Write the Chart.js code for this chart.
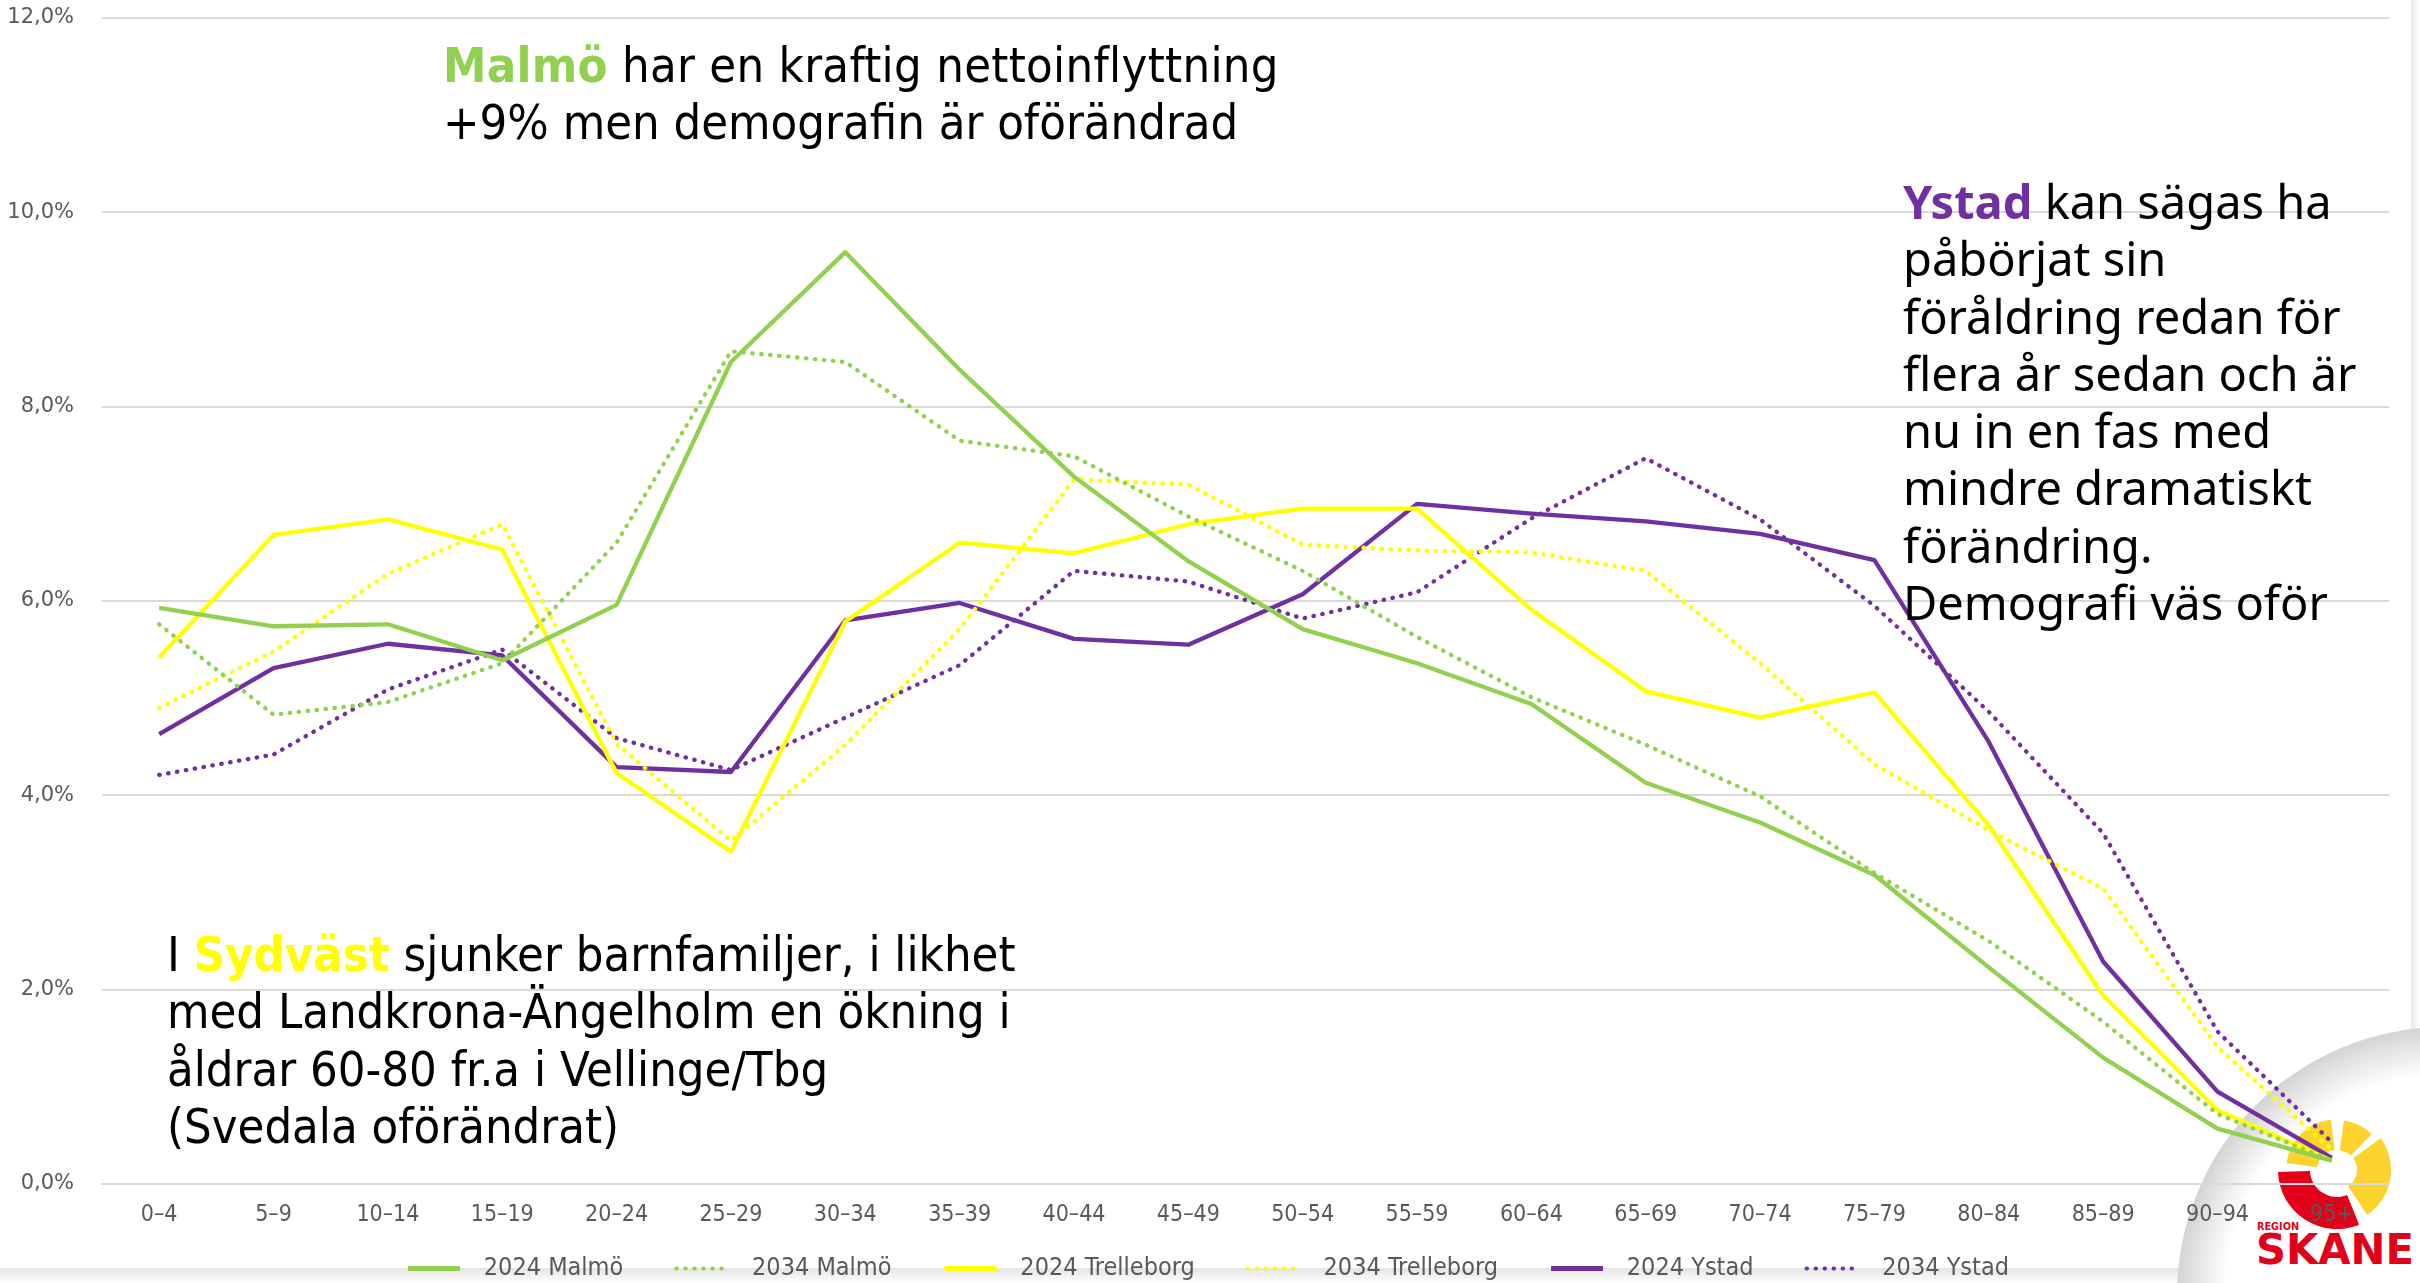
<!DOCTYPE html>
<html>
<head>
<meta charset="utf-8">
<script src="https://cdn.jsdelivr.net/npm/chart.js@4.4.1/dist/chart.umd.min.js"></script>
<style>
  html, body { margin: 0; padding: 0; background: #fff; }
  #wrap { position: relative; width: 2420px; height: 1283px; overflow: hidden; background: #fff; }
  #logo { position: absolute; left: 0; top: 0; z-index: 0; }
  #myCanvas { position: absolute; left: 0; top: 0; z-index: 1; }
  .note { position: absolute; z-index: 2; color: #000; white-space: nowrap; }
  .narrow { font-family: 'DejaVu Sans Condensed', 'Liberation Sans', sans-serif; font-size: 48.5px; line-height: 57.3px; }
  .wide { font-family: 'Noto Sans', 'Open Sans', sans-serif; font-size: 47px; line-height: 57.3px; }
</style>
</head>
<body>
<div id="wrap">
  <svg id="logo" width="2420" height="1283">
    <defs>
      <radialGradient id="shade" gradientUnits="userSpaceOnUse" cx="2445" cy="1295" r="268">
        <stop offset="0.82" stop-color="#ffffff"/>
        <stop offset="1" stop-color="#d4d4d4"/>
      </radialGradient>
      <linearGradient id="bottomShade" x1="0" y1="0" x2="0" y2="1">
        <stop offset="0" stop-color="#e4e4e4"/>
        <stop offset="1" stop-color="#ffffff"/>
      </linearGradient>
      <linearGradient id="rightShade" x1="0" y1="0" x2="1" y2="0">
        <stop offset="0" stop-color="#e8e8e8"/>
        <stop offset="1" stop-color="#ffffff"/>
      </linearGradient>
    </defs>
    <rect x="0" y="1268" width="2420" height="15" fill="url(#bottomShade)"/>
    <rect x="2411" y="0" width="9" height="1283" fill="url(#rightShade)"/>
    <circle cx="2445" cy="1295" r="268" fill="url(#shade)"/>
    <g id="sun"></g>
    <text x="2257" y="1230" fill="#e2001a" font-family="'DejaVu Sans Condensed',sans-serif" font-weight="bold" font-size="11" textLength="42" lengthAdjust="spacingAndGlyphs">REGION</text>
    <text x="2256" y="1264" fill="#e2001a" font-family="'DejaVu Sans Condensed',sans-serif" font-weight="bold" font-size="42" textLength="158" lengthAdjust="spacingAndGlyphs">SKANE</text>
  </svg>
  <canvas id="myCanvas" width="2420" height="1283"></canvas>

  <div class="note narrow" style="left:443px; top:37px;"><span style="letter-spacing:0.3px;"><b style="color:#92d050;">Malmö</b> har en kraftig nettoinflyttning</span><br>+9% men demografin är oförändrad</div>

  <div class="note wide" style="left:1903px; top:173px;"><b style="color:#7030a0;">Ystad</b> kan sägas ha<br>påbörjat sin<br>föråldring redan för<br>flera år sedan och är<br>nu in en fas med<br>mindre dramatiskt<br>förändring.<br>Demografi väs oför</div>

  <div class="note narrow" style="left:167px; top:926px;">I <b style="color:#ffff00;">Sydväst</b> sjunker barnfamiljer, i likhet<br>med Landkrona-Ängelholm en ökning i<br>åldrar 60-80 fr.a i Vellinge/Tbg<br>(Svedala oförändrat)</div>
</div>

<script>
'use strict';

// Age groups along the x axis
const ageGroups = ['0–4','5–9','10–14','15–19','20–24','25–29','30–34','35–39','40–44','45–49',
  '50–54','55–59','60–64','65–69','70–74','75–79','80–84','85–89','90–94','95+'];

// Share of population per age group, in percent
const malmo2024 = [5.93, 5.74, 5.76, 5.39, 5.96, 8.46, 9.59, 8.38, 7.28, 6.41, 5.71, 5.36, 4.94, 4.13, 3.72, 3.18, 2.23, 1.30, 0.57, 0.24];
const malmo2034 = [5.76, 4.83, 4.96, 5.36, 6.60, 8.57, 8.46, 7.65, 7.49, 6.87, 6.31, 5.63, 5.01, 4.52, 3.99, 3.20, 2.50, 1.67, 0.72, 0.24];
const trelleborg2024 = [5.42, 6.68, 6.84, 6.53, 4.23, 3.42, 5.79, 6.60, 6.49, 6.79, 6.95, 6.95, 5.91, 5.07, 4.80, 5.06, 3.69, 1.94, 0.76, 0.24];
const trelleborg2034 = [4.90, 5.48, 6.28, 6.79, 4.53, 3.53, 4.52, 5.71, 7.25, 7.20, 6.58, 6.52, 6.50, 6.31, 5.36, 4.32, 3.64, 3.04, 1.41, 0.35];
const ystad2024 = [4.63, 5.31, 5.56, 5.44, 4.29, 4.24, 5.80, 5.98, 5.61, 5.55, 6.07, 7.00, 6.90, 6.82, 6.69, 6.42, 4.55, 2.29, 0.95, 0.27];
const ystad2034 = [4.21, 4.42, 5.09, 5.50, 4.59, 4.26, 4.80, 5.34, 6.31, 6.20, 5.82, 6.09, 6.85, 7.47, 6.84, 5.95, 4.86, 3.61, 1.57, 0.43];

const yTicks = [0, 2, 4, 6, 8, 10, 12];

const green = '#92d050';
const yellow = '#ffff00';
const purple = '#7030a0';

// builds one line dataset, dotted ones get round dots
function makeLine(label, values, color, dotted) {
  return {
    label: label,
    data: values,
    borderColor: color,
    backgroundColor: color,
    borderWidth: 4.3,
    borderDash: dotted ? [0.5, 8.5] : [],
    borderCapStyle: dotted ? 'round' : 'butt',
    borderJoinStyle: 'round',
    pointRadius: 0,
    tension: 0,
    fill: false
  };
}

// little sun + swoosh of the logo, drawn as svg paths
function arcPath(cx, cy, r1, r2, a1, a2) {
  const rad = Math.PI / 180;
  const p = (r, a) => (cx + r * Math.cos(a * rad)).toFixed(1) + ' ' + (cy + r * Math.sin(a * rad)).toFixed(1);
  const large = (a2 - a1) > 180 ? 1 : 0;
  return 'M ' + p(r2, a1) + ' A ' + r2 + ' ' + r2 + ' 0 ' + large + ' 1 ' + p(r2, a2) +
    ' L ' + p(r1, a2) + ' A ' + r1 + ' ' + r1 + ' 0 ' + large + ' 0 ' + p(r1, a1) + ' Z';
}
const sun = document.getElementById('sun');
const logoParts = [
  [20, 51, -172, -97, '#fcd22c'],
  [20, 50, -82, -46, '#fcd22c'],
  [20, 54, -36, 56, '#fcd22c'],
  [27, 59, 68, 178, '#e2001a']
];
logoParts.forEach(function(part) {
  const path = document.createElementNS('http://www.w3.org/2000/svg', 'path');
  path.setAttribute('d', arcPath(2337, 1170, part[0], part[1], part[2], part[3]));
  path.setAttribute('fill', part[4]);
  sun.appendChild(path);
});

// the legend box stops at the right padding, so nudge it back to the middle of the page
const legendNudge = {
  id: 'legendNudge',
  afterLayout: function(chart) {
    chart.legend.left += 14;
    chart.legend.right += 14;
  }
};

Chart.defaults.font.family = "'DejaVu Sans Condensed', 'DejaVu Sans', sans-serif";
Chart.defaults.color = '#595959';

const chartInfo = document.getElementById('myCanvas');
const myChart = new Chart(chartInfo, {
  type: 'line',
  data: {
    labels: ageGroups,
    datasets: [
      makeLine('2024 Malmö', malmo2024, green, false),
      makeLine('2034 Malmö', malmo2034, green, true),
      makeLine('2024 Trelleborg', trelleborg2024, yellow, false),
      makeLine('2034 Trelleborg', trelleborg2034, yellow, true),
      makeLine('2024 Ystad', ystad2024, purple, false),
      makeLine('2034 Ystad', ystad2034, purple, true)
    ]
  },
  plugins: [legendNudge],
  options: {
    responsive: false,
    animation: false,
    layout: {
      padding: { left: 0, right: 31, top: 18, bottom: -8 }
    },
    plugins: {
      tooltip: { enabled: false },
      legend: {
        position: 'bottom',
        labels: {
          usePointStyle: true,
          pointStyle: 'line',
          pointStyleWidth: 52,
          padding: 20,
          color: '#595959',
          font: { size: 25 },
          // point style loses the dash, so copy the line look from the dataset.
          // en space before and a few spaces after (not on the last one) to space the items like the original
          generateLabels: function(chart) {
            const items = Chart.defaults.plugins.legend.labels.generateLabels(chart);
            items.forEach(function(item, i) {
              const ds = chart.data.datasets[item.datasetIndex];
              const tail = i < items.length - 1 ? '\u00a0\u00a0\u00a0\u00a0\u2009' : '';
              item.text = '\u2002' + item.text + tail;
              item.strokeStyle = ds.borderColor;
              item.lineDash = ds.borderDash;
              item.lineCap = ds.borderCapStyle;
              item.lineWidth = ds.borderDash.length ? 4 : 5;
            });
            return items;
          }
        }
      }
    },
    scales: {
      x: {
        offset: true,
        grid: { display: false, drawTicks: false },
        border: { display: true, color: '#d9d9d9', width: 2 },
        ticks: { padding: 17, maxRotation: 0, autoSkip: false, font: { size: 23 }, color: '#595959' },
        afterFit: function(scale) { scale.height = 52; }
      },
      y: {
        min: 0,
        max: 12,
        afterBuildTicks: function(scale) { scale.ticks = yTicks.map(v => ({ value: v })); },
        // invisible tick marks push the labels away from the plot without growing the top padding
        grid: { color: '#d9d9d9', lineWidth: 2, drawTicks: true, tickLength: 28, tickColor: 'rgba(0,0,0,0)' },
        border: { display: false },
        ticks: {
          padding: 0,
          font: { size: 21, family: "'DejaVu Sans', sans-serif" },
          color: '#595959',
          callback: function(value) { return value.toFixed(1).replace('.', ',') + '%'; }
        },
        afterFit: function(scale) { scale.width = 102; }
      }
    }
  }
});
</script>
</body>
</html>
